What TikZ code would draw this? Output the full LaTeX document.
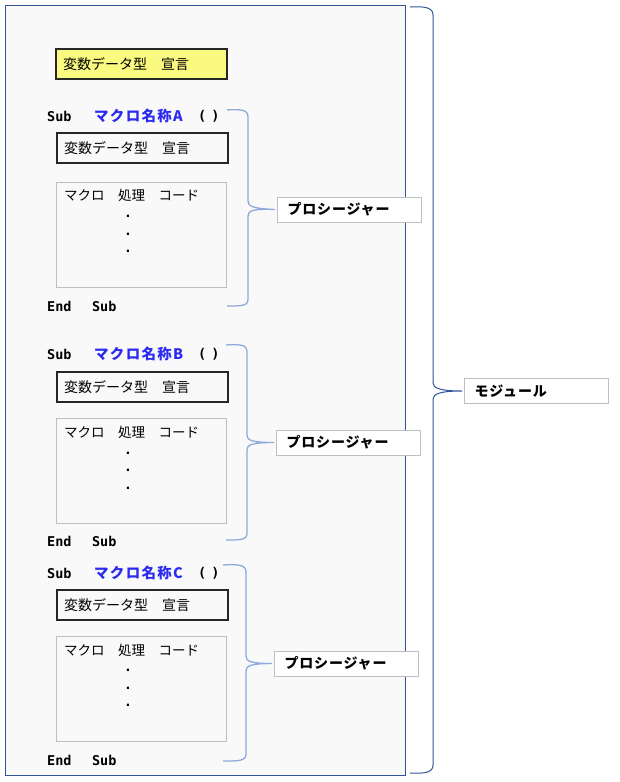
\documentclass[tikz,border=0pt]{standalone}
\usepackage{fontspec}
\newfontfamily\jp{Noto Sans CJK JP}
\newfontfamily\mono{DejaVu Sans Mono}
\definecolor{modblue}{HTML}{2F5597}
\definecolor{bracblue}{HTML}{8FAADC}
\definecolor{bgfill}{HTML}{F9F9F9}
\definecolor{yel}{HTML}{FAFA80}
\definecolor{namblue}{HTML}{2B2BF0}
\definecolor{lgray}{HTML}{BFBFBF}
\definecolor{dark}{HTML}{262626}
\tikzset{
  jptext/.style={font=\jp\fontsize{13.5}{16}\selectfont, inner sep=0pt, anchor=west},
  kw/.style={font=\mono\bfseries\fontsize{13.5}{16}\selectfont, inner sep=0pt, anchor=west},
  nm/.style={font=\jp\bfseries\fontsize{14.5}{16}\selectfont\addfontfeature{LetterSpace=9}, text=namblue, inner sep=0pt, anchor=west},
  dotmark/.style={font=\mono\bfseries\fontsize{13}{14}\selectfont, inner sep=0pt},
  declbox/.style={draw=dark, line width=2pt, font=\jp\fontsize{14}{16}\selectfont,
    text width=157pt, inner xsep=7pt, inner ysep=0pt, minimum height=30pt, anchor=north west, align=left},
  codebox/.style={draw=lgray, line width=1pt, fill=bgfill, minimum width=170pt, minimum height=105pt, inner sep=0pt, anchor=north west},
  lblbox/.style={draw=lgray, line width=1pt, fill=white, font=\jp\bfseries\fontsize{14}{16}\selectfont\addfontfeature{LetterSpace=6},
    text width=124pt, inner xsep=10pt, inner ysep=0pt, minimum height=25pt, anchor=west, align=left},
  pbrace/.style={draw=bracblue, line width=1.3pt},
  mbrace/.style={draw=modblue, line width=1pt},
}
\begin{document}
\begin{tikzpicture}[x=1pt,y=-1pt]
\useasboundingbox (0,0) rectangle (620,782);
% module frame
\node[draw=modblue, line width=1pt, fill=bgfill, minimum width=400pt, minimum height=770pt, inner sep=0pt, anchor=north west] (module) at (5,5) {};
% global declaration
\node[declbox, fill=yel] (gdecl) at (55,48) {変数データ型　宣言};

% ---------- Section A ----------
\node[kw] (subA) at (47,116) {Sub};
\node[nm] (nameA) at (94,116) {マクロ名称A};
\node[kw] (parA) at (198,116) {(\hspace{5pt})};
\node[declbox] (declA) at (56,132) {変数データ型　宣言};
\node[codebox] (codeA) at (56,182) {};
\node[jptext] (codetA) at (64,195) {マクロ　処理　コード};
\node[dotmark] (dA1) at (128,216) {.};
\node[dotmark] (dA2) at (128,234) {.};
\node[dotmark] (dA3) at (128,251) {.};
\node[kw] (endA) at (47,306) {End\hspace{20.5pt}Sub};
\node[lblbox] (lblA) at (277,209.5) {プロシージャー};
\draw[pbrace] (227,110) .. controls (242,109) and (248,110) .. (248,117) -- (248,201)
  .. controls (248,206) and (252,208.5) .. ([xshift=-2pt]lblA.west)
  .. controls (252,208.5) and (248,211) .. (248,216) -- (248,299)
  .. controls (248,306) and (242,306) .. (227,306);

% ---------- Section B ----------
\node[kw] (subB) at (47,354) {Sub};
\node[nm] (nameB) at (94,354) {マクロ名称B};
\node[kw] (parB) at (198,354) {(\hspace{5pt})};
\node[declbox] (declB) at (56,371) {変数データ型　宣言};
\node[codebox] (codeB) at (56,418) {};
\node[jptext] (codetB) at (64,432) {マクロ　処理　コード};
\node[dotmark] (dB1) at (128,453) {.};
\node[dotmark] (dB2) at (128,470) {.};
\node[dotmark] (dB3) at (128,488) {.};
\node[kw] (endB) at (47,541) {End\hspace{20.5pt}Sub};
\node[lblbox] (lblB) at (276,442.5) {プロシージャー};
\draw[pbrace] (226,345) .. controls (241,344) and (247,345) .. (247,352) -- (247,435)
  .. controls (247,440) and (251,442.5) .. ([xshift=-2pt]lblB.west)
  .. controls (251,442.5) and (247,445) .. (247,450) -- (247,533)
  .. controls (247,540) and (241,540) .. (226,540);

% ---------- Section C ----------
\node[kw] (subC) at (47,573) {Sub};
\node[nm] (nameC) at (94,573) {マクロ名称C};
\node[kw] (parC) at (198,573) {(\hspace{5pt})};
\node[declbox] (declC) at (56,589) {変数データ型　宣言};
\node[codebox] (codeC) at (56,636) {};
\node[jptext] (codetC) at (64,650) {マクロ　処理　コード};
\node[dotmark] (dC1) at (128,670) {.};
\node[dotmark] (dC2) at (128,688) {.};
\node[dotmark] (dC3) at (128,705) {.};
\node[kw] (endC) at (47,760) {End\hspace{20.5pt}Sub};
\node[lblbox] (lblC) at (274,663.5) {プロシージャー};
\draw[pbrace] (223,565) .. controls (239,564) and (246,565) .. (246,572) -- (246,656)
  .. controls (246,661) and (250,663.5) .. ([xshift=-2pt]lblC.west)
  .. controls (250,663.5) and (246,666) .. (246,671) -- (246,754)
  .. controls (246,761) and (239,761) .. (223,761);

% ---------- Module brace ----------
\node[lblbox] (modlbl) at (464,391) {モジュール};
\draw[mbrace] (410,7) .. controls (426,6) and (433,8) .. (433,15) -- (433,383)
  .. controls (433,388) and (440,391) .. ([xshift=-2pt]modlbl.west)
  .. controls (440,391) and (433,394) .. (433,399) -- (433,765)
  .. controls (433,772) and (426,774) .. (410,773);
\end{tikzpicture}
\end{document}
